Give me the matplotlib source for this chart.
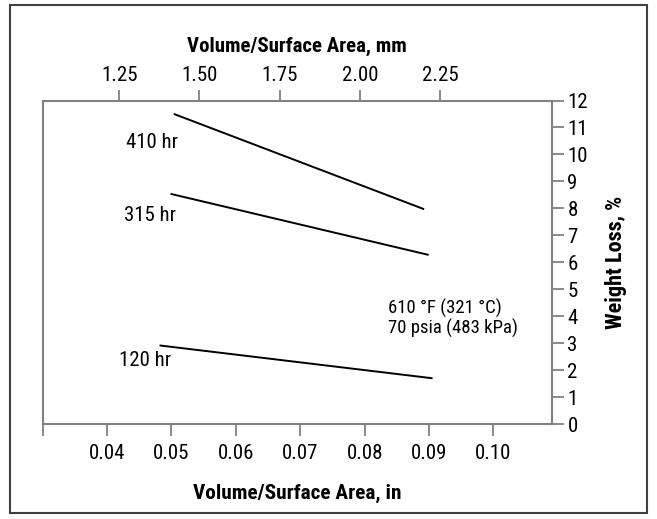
import matplotlib
matplotlib.use("Agg")
import matplotlib.pyplot as plt
from matplotlib.patches import Rectangle

plt.rcParams['font.family'] = ['Roboto Condensed', 'DejaVu Sans']

# data
hours = ['410 hr', '315 hr', '120 hr']
vs_in = [[0.0505, 0.0891], [0.0500, 0.0898], [0.0483, 0.0904]]
loss = [[11.49, 7.98], [8.53, 6.28], [2.91, 1.70]]
label_x = [0.0470, 0.0467, 0.0459]
label_y = [10.43, 7.73, 2.35]

in_ticks = [0.03, 0.04, 0.05, 0.06, 0.07, 0.08, 0.09, 0.10]
in_labels = ['', '0.04', '0.05', '0.06', '0.07', '0.08', '0.09', '0.10']
mm_ticks = [1.25, 1.50, 1.75, 2.00, 2.25]
mm_labels = ['1.25', '1.50', '1.75', '2.00', '2.25']
y_ticks = list(range(0, 13))

note = '610 \u00b0F (321 \u00b0C)\n70 psia (483 kPa)'

gray = '#808080'

fig = plt.figure(figsize=(6.57, 5.19), dpi=100)
fig.patches.append(Rectangle((10/657, 1 - 513/519), 637/657, 508/519,
                             transform=fig.transFigure, fill=False,
                             edgecolor='#404040', linewidth=1.5))

ax = fig.add_axes([42.7/657, 1 - 424/519, (552 - 42.7)/657, (424 - 100.5)/519])
ax.set_xlim(0.0301, 0.1091)
ax.set_ylim(0, 12)

for i in range(len(hours)):
    ax.plot(vs_in[i], loss[i], color='black', linewidth=1.4)
    ax.text(label_x[i], label_y[i], hours[i], fontsize=15, ha='center', va='center')

ax.text(0.0837, 3.93, note, fontsize=13.5, ha='left', va='center', linespacing=1.05)

for s in ax.spines.values():
    s.set_color(gray)
    s.set_linewidth(1.5)

ax.set_xticks(in_ticks)
ax.set_xticklabels(in_labels)
ax.tick_params(axis='x', direction='out', length=8.6, width=1.3, color=gray,
               labelsize=15, pad=5.5)
ax.set_xlabel('Volume/Surface Area, in', fontsize=15.3, fontweight='bold', labelpad=15)

ax.yaxis.tick_right()
ax.yaxis.set_label_position('right')
ax.set_yticks(y_ticks)
ax.tick_params(axis='y', direction='out', length=8.6, width=1.3, color=gray,
               labelsize=15, pad=2.5)
ax.set_ylabel('Weight Loss, %', fontsize=16, fontweight='bold', labelpad=12)

top = ax.twiny()
top.set_xlim(1.0113, 2.5994)
top.set_xticks(mm_ticks)
top.set_xticklabels(mm_labels)
top.tick_params(axis='x', direction='out', length=8, width=1.3, color=gray,
                labelsize=15, pad=3)
for s in top.spines.values():
    s.set_visible(False)
top.set_xlabel('Volume/Surface Area, mm', fontsize=15, fontweight='bold', labelpad=10)

fig.savefig('out.png', dpi=100)
